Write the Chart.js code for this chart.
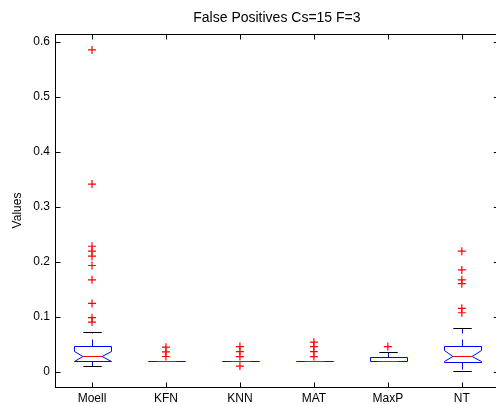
<!DOCTYPE html>
<html>
<head>
<meta charset="utf-8">
<title>False Positives Cs=15 F=3</title>
<script src="https://cdn.jsdelivr.net/npm/chart.js@4/dist/chart.umd.min.js"></script>
<style>
  html, body { margin: 0; padding: 0; background: #fff; overflow: hidden; width: 496px; height: 404px; }
  #wrap { position: absolute; left: 0; top: 0; width: 504px; height: 404px; }
</style>
</head>
<body>
<div id="wrap"><canvas id="chart" width="504" height="404"></canvas></div>
<script>
// Box-plot summary per method
const categories   = ['Moell', 'KFN', 'KNN', 'MAT', 'MaxP', 'NT'];
const lowerWhisker = [0.011,  0.019, 0.019, 0.019, 0.019,  0.002];
const q1           = [0.0195, 0.019, 0.019, 0.019, 0.019,  0.0182];
const medians      = [0.029,  0.019, 0.019, 0.019, 0.019,  0.0285];
const q3           = [0.047,  0.019, 0.019, 0.019, 0.0273, 0.0473];
const upperWhisker = [0.0727, 0.019, 0.019, 0.019, 0.0364, 0.080];
const notchLow     = [0.020,  0.019, 0.019, 0.019, 0.019,  0.0185];
const notchHigh    = [0.038,  0.019, 0.019, 0.019, 0.019,  0.0395];
const outliers = [
  [0.585, 0.341, 0.228, 0.219, 0.210, 0.193, 0.167, 0.124, 0.098, 0.090],
  [0.0445, 0.036, 0.0275],
  [0.0455, 0.0364, 0.0273, 0.0100],
  [0.0535, 0.0455, 0.0364, 0.0273],
  [0.0455],
  [0.219, 0.185, 0.167, 0.160, 0.115, 0.107]
];
const yTicks      = [0, 0.1, 0.2, 0.3, 0.4, 0.5, 0.6];
const yTickLabels = ['0', '0.1', '0.2', '0.3', '0.4', '0.5', '0.6'];

const FONT = '"Liberation Sans", Arial, Helvetica, sans-serif';

// outlier markers as scatter points
const outlierPoints = [];
outliers.forEach((vals, i) => vals.forEach(v => outlierPoints.push({ x: i + 1, y: v })));

function seg(ctx, x1, y1, x2, y2) {
  ctx.beginPath(); ctx.moveTo(x1, y1); ctx.lineTo(x2, y2); ctx.stroke();
}
const snap = v => Math.round(v) + 0.5;

// draws whiskers, caps, notched boxes and medians from the summary arrays
const boxPlugin = {
  id: 'notchedBoxes',
  beforeDatasetsDraw(chart) {
    const { ctx, chartArea: a, scales: { x, y } } = chart;
    const unit = x.getPixelForValue(2) - x.getPixelForValue(1);
    const half = unit * 0.25, capHalf = unit * 0.125, notchHalf = half * 0.52;
    const py = v => snap(y.getPixelForValue(v));
    ctx.save();
    ctx.beginPath(); ctx.rect(a.left, a.top, a.right - a.left, a.bottom - a.top); ctx.clip();
    ctx.lineWidth = 1;
    ctx.lineCap = 'butt';
    ctx.lineJoin = 'round';
    categories.forEach((c, i) => {
      const cx = snap(x.getPixelForValue(i + 1));
      const l = Math.round(cx - half) + 0.5, r = Math.round(cx + half) + 0.5;
      const yq1 = py(q1[i]), yq3 = py(q3[i]), ym = py(medians[i]);
      const ynl = py(notchLow[i]), ynh = py(notchHigh[i]);
      const ylw = py(lowerWhisker[i]), yuw = py(upperWhisker[i]);
      // dashed whiskers
      ctx.strokeStyle = '#0000ff';
      ctx.setLineDash([7, 6]);
      if (yuw < yq3) seg(ctx, cx, yq3, cx, yuw);
      if (ylw > yq1) seg(ctx, cx, yq1, cx, ylw);
      ctx.setLineDash([]);
      // whisker caps
      ctx.strokeStyle = '#000000';
      if (yuw < yq3) seg(ctx, cx - capHalf, yuw, cx + capHalf, yuw);
      if (ylw > yq1) seg(ctx, cx - capHalf, ylw, cx + capHalf, ylw);
      // notched box outline
      ctx.strokeStyle = '#0000ff';
      seg(ctx, l, yq3, r, yq3);
      seg(ctx, l, yq1, r, yq1);
      [[l, cx - notchHalf], [r, cx + notchHalf]].forEach(([edge, inner]) => {
        if (yq1 > ynl) seg(ctx, edge, yq1, edge, ynl);
        if (ynl > ym) seg(ctx, edge, ynl, inner, ym);
        if (ym > ynh) seg(ctx, inner, ym, edge, ynh);
        if (ynh > yq3) seg(ctx, edge, ynh, edge, yq3);
      });
      // median
      ctx.strokeStyle = '#ff0000';
      seg(ctx, cx - notchHalf, ym, cx + notchHalf, ym);
    });
    ctx.restore();
  },
  afterDraw(chart) {
    // top frame line and inward tick marks
    const { ctx, chartArea: a, scales: { x, y } } = chart;
    const tl = 5;
    ctx.save();
    ctx.strokeStyle = '#000000';
    ctx.lineWidth = 1;
    const top = snap(a.top), bottom = snap(a.bottom), left = snap(a.left);
    seg(ctx, a.left, top, a.right, top);
    x.ticks.forEach(t => {
      const px = snap(x.getPixelForValue(t.value));
      seg(ctx, px, bottom, px, bottom - tl);
      seg(ctx, px, top, px, top + tl);
    });
    y.ticks.forEach(t => {
      const pyv = snap(y.getPixelForValue(t.value));
      seg(ctx, left, pyv, left + tl, pyv);
      seg(ctx, a.right, pyv, a.right - tl, pyv);
    });
    ctx.restore();
  }
};

new Chart(document.getElementById('chart'), {
  type: 'scatter',
  data: {
    datasets: [{
      label: 'Outliers',
      data: outlierPoints,
      pointStyle: 'cross',
      pointRadius: 4,
      pointHoverRadius: 4,
      borderColor: '#ff0000',
      backgroundColor: '#ff0000',
      borderWidth: 1.2
    }]
  },
  options: {
    responsive: false,
    devicePixelRatio: 1,
    animation: false,
    events: [],
    layout: { padding: { left: 0, right: 2, top: 0, bottom: 0 } },
    plugins: {
      legend: { display: false },
      tooltip: { enabled: false },
      title: {
        display: true,
        fullSize: false,
        text: 'False Positives Cs=15 F=3',
        color: '#000000',
        font: { family: FONT, size: 14, weight: 'normal' },
        padding: { top: 10, bottom: 7.2 }
      }
    },
    scales: {
      x: {
        type: 'linear',
        min: 0.5,
        max: 6.5,
        afterBuildTicks: s => { s.ticks = categories.map((c, i) => ({ value: i + 1 })); },
        afterFit: s => { s.height = 17; },
        grid: { display: false, drawTicks: false },
        border: { display: true, color: '#000000', width: 1 },
        ticks: {
          autoSkip: false,
          maxRotation: 0,
          padding: 4,
          color: '#000000',
          font: { family: FONT, size: 12 },
          callback: v => categories[Math.round(v) - 1]
        }
      },
      y: {
        type: 'linear',
        min: -0.028,
        max: 0.614,
        afterBuildTicks: s => { s.ticks = yTicks.map(v => ({ value: v })); },
        afterFit: s => { s.width = 55; },
        grid: { display: false, drawTicks: false },
        border: { display: true, color: '#000000', width: 1 },
        title: {
          display: true,
          text: 'Values',
          color: '#000000',
          font: { family: FONT, size: 12 },
          padding: { top: 10, bottom: 0 }
        },
        ticks: {
          padding: 5,
          color: '#000000',
          font: { family: FONT, size: 12 },
          callback: (v) => {
            const k = yTicks.findIndex(t => Math.abs(t - v) < 1e-9);
            return k >= 0 ? yTickLabels[k] : '';
          }
        }
      }
    }
  },
  plugins: [boxPlugin]
});
</script>
</body>
</html>
